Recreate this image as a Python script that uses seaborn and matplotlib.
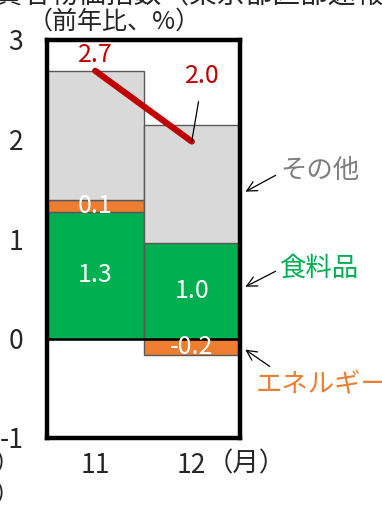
import matplotlib
matplotlib.use("Agg")
import matplotlib.pyplot as plt
import seaborn as sns
import pandas as pd

sns.set_theme(style="white")
plt.rcParams["font.family"] = ["Noto Sans CJK JP", "DejaVu Sans"]

# 消費者物価（前年比、%）の寄与度
months = ["11", "12"]
food = [1.27, 0.96]        # 食料品
energy = [0.12, -0.17]     # エネルギー
other = [1.30, 1.19]       # その他
total = [a + b + c for a, b, c in zip(food, energy, other)]

df = pd.DataFrame({"month": months, "food": food, "energy": energy, "other": other})

W, H, DPI = 382, 507, 100
fig = plt.figure(figsize=(W / DPI, H / DPI), dpi=DPI)
ax = fig.add_axes([47 / W, (H - 438) / H, (240 - 47) / W, (438 - 40) / H])

GRAY = "#D9D9D9"
GREEN = "#00B050"
ORANGE = "#ED7D31"
RED = "#C00000"
EDGE = "#595959"

# stacking: positives upward from 0, negatives downward from 0
pos_base = [0.0, 0.0]
neg_base = [0.0, 0.0]


def stack(vals):
    bottoms = []
    for i, v in enumerate(vals):
        if v >= 0:
            bottoms.append(pos_base[i])
            pos_base[i] += v
        else:
            bottoms.append(neg_base[i])
            neg_base[i] += v
    return bottoms


segments = []
for col, color in [("food", GREEN), ("energy", ORANGE), ("other", GRAY)]:
    b = stack(df[col].tolist())
    sns.barplot(data=df, x="month", y=col, bottom=b, color=color, width=1.0,
                edgecolor=EDGE, linewidth=1.0, saturation=1, ax=ax, zorder=2)
    segments.append((col, b))

# value labels inside the bars
lab_fs = 18
for col, b in segments:
    if col == "other":
        continue
    for i, v in enumerate(df[col]):
        ax.text(i, b[i] + v / 2, f"{v:.1f}", color="white", ha="center",
                va="center", fontsize=lab_fs, zorder=5)

ax.axhline(0, color="black", lw=1.8, zorder=3)

# total line
sns.lineplot(x=[0, 1], y=total, color=RED, lw=4.5, ax=ax, zorder=4)
ax.text(0, total[0] + 0.16, f"{total[0]:.1f}", color=RED, ha="center",
        va="center", fontsize=lab_fs, zorder=5)
ax.text(1.11, 2.64, f"{total[1]:.1f}", color=RED, ha="center", va="center",
        fontsize=lab_fs, zorder=5)
ax.plot([1.07, 1.0], [2.38, total[1]], color="black", lw=0.9, zorder=5)

ax.set_xlim(-0.5, 1.5)
ax.set_ylim(-1, 3)
ax.set_yticks([-1, 0, 1, 2, 3])
ax.set_yticklabels(["-1", "0", "1", "2", "3"])
ax.tick_params(axis="y", direction="in", length=7, width=1.5, labelsize=19,
               pad=17, left=True, color="black")
ax.tick_params(axis="x", length=0, labelsize=19, pad=10)
ax.set_xlabel("")
ax.set_ylabel("")
for s in ax.spines.values():
    s.set_color("black")
    s.set_linewidth(3.2)
    s.set_zorder(6)


def px(x, y):
    return (x, H - y)


fig.text(28 / W, (H - 22) / H, "（前年比、%）", fontsize=18, ha="left", va="center")
fig.text(207 / W, (H - 464) / H, "（月）", fontsize=19, ha="left", va="center")
fig.text(-32 / W, (H + 5) / H, "消費者物価指数（東京都区部速報値）", fontsize=20,
         ha="left", va="center")
fig.text(20 / W, (H - 464) / H, "注）", fontsize=18, ha="right", va="center")
fig.text(20 / W, (H - 495) / H, "注）", fontsize=18, ha="right", va="center")

# series labels with arrows
fig.text(280 / W, (H - 170) / H, "その他", color="#7F7F7F", fontsize=19,
         ha="left", va="center")
fig.text(279 / W, (H - 268) / H, "食料品", color=GREEN, fontsize=19,
         ha="left", va="center")
fig.text(256 / W, (H - 385) / H, "エネルギー", color=ORANGE, fontsize=19,
         ha="left", va="center")
arrow = dict(arrowstyle="->", color="black", lw=0.9, mutation_scale=18)
for (x0, y0), (x1, y1) in [((278, 174), (243, 193)),
                           ((278, 270), (243, 288)),
                           ((272, 368), (243, 348))]:
    ax.annotate("", xy=px(x1, y1), xycoords="figure pixels",
                xytext=px(x0, y0), textcoords="figure pixels",
                arrowprops=arrow, annotation_clip=False)

fig.savefig("out.png", dpi=DPI)
